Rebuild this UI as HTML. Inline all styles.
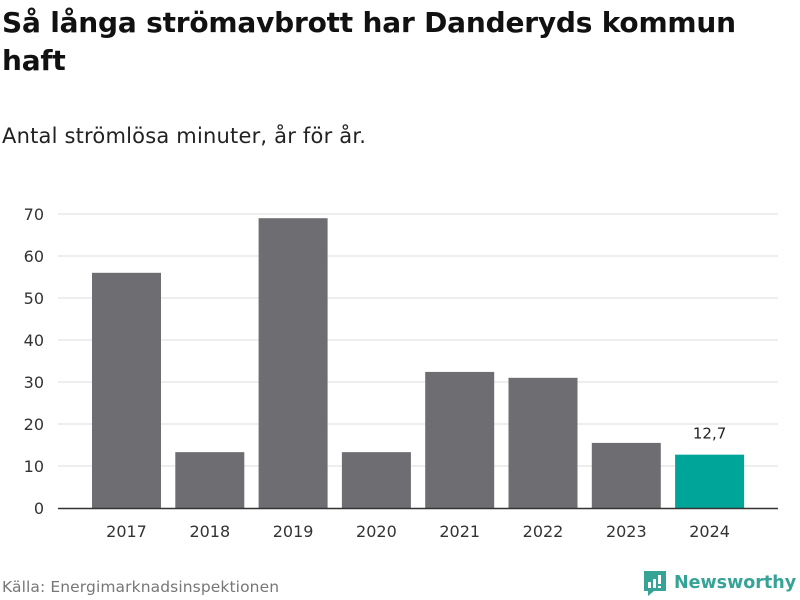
<!DOCTYPE html>
<html><head><meta charset="utf-8"><style>
body{margin:0;width:800px;height:600px;background:#fff;font-family:"DejaVu Sans","Liberation Sans",sans-serif;overflow:hidden;position:relative;color:#111}
#title{position:absolute;left:2px;top:4px;font-size:28px;font-weight:bold;line-height:38px;width:750px;letter-spacing:-0.2px}
#sub{position:absolute;left:2px;top:124px;font-size:21px;color:#222;letter-spacing:0.2px}
#src{position:absolute;left:2px;top:578px;font-size:15.5px;color:#777;letter-spacing:0.1px}
#logo{position:absolute;left:642px;top:569px;display:flex;align-items:center;color:#36a397;font-weight:bold;font-size:17.5px}
</style></head><body>
<div id="title">Så långa strömavbrott har Danderyds kommun haft</div>
<div id="sub">Antal strömlösa minuter, år för år.</div>
<svg id="chart" width="800" height="600" style="position:absolute;left:0;top:0"></svg>
<div id="src">Källa: Energimarknadsinspektionen</div>
<div id="logo"><svg width="26" height="28" viewBox="0 0 26 28"><path d="M2 2h22v20H12l-6 5v-5H2z" fill="#36a397"/><rect x="6" y="13" width="3" height="6" fill="#fff"/><rect x="11" y="10" width="3" height="9" fill="#fff"/><rect x="16" y="6" width="3" height="9" fill="#fff"/><rect x="16" y="17" width="3" height="2" fill="#fff"/></svg><span style="margin-left:6px">Newsworthy</span></div>
<script>
const categories=["2017","2018","2019","2020","2021","2022","2023","2024"];
const values=[56,13.3,69,13.3,32.4,31,15.5,12.7];
const yTicks=[0,10,20,30,40,50,60,70];
const highlightLabel="12,7";
const svg=document.getElementById('chart');
const NS="http://www.w3.org/2000/svg";
const x0=58,x1=778,yBase=508,yTop=214,yMax=70;
const y=v=>yBase-(v/yMax)*(yBase-yTop);
function mk(t,a){const e=document.createElementNS(NS,t);for(const k in a)e.setAttribute(k,a[k]);svg.appendChild(e);return e;}
yTicks.forEach(t=>{
 if(t>0){const l=mk('line',{x1:x0,x2:x1,y1:y(t),y2:y(t),stroke:'#ddd','stroke-width':1});
 
 }
 const tx=mk('text',{x:44,y:y(t)+6,'text-anchor':'end','font-size':16,fill:'#333','font-family':'DejaVu Sans,sans-serif'});
 tx.textContent=t;
 
 
});
categories.forEach((c,i)=>{
 const cx=126.5+i*83.3,w=69;
 const last=i===categories.length-1;
 const r=mk('rect',{x:cx-w/2,y:y(values[i]),width:w,height:yBase-y(values[i]),fill:last?'#00a59a':'#6e6d72'});
 
 
 const t=mk('text',{x:cx,y:537,'text-anchor':'middle','font-size':16,fill:'#333','font-family':'DejaVu Sans,sans-serif'});
 t.textContent=c;
 
 
 if(last){const v=mk('text',{x:cx,y:y(values[i])-16,'text-anchor':'middle','font-size':15,fill:'#222','font-family':'DejaVu Sans,sans-serif'});
 v.textContent=highlightLabel;
 
 }
});
const ax=mk('line',{x1:x0,x2:x1,y1:yBase+0.5,y2:yBase+0.5,stroke:'#333','stroke-width':1.5});


</script>
</body></html>
